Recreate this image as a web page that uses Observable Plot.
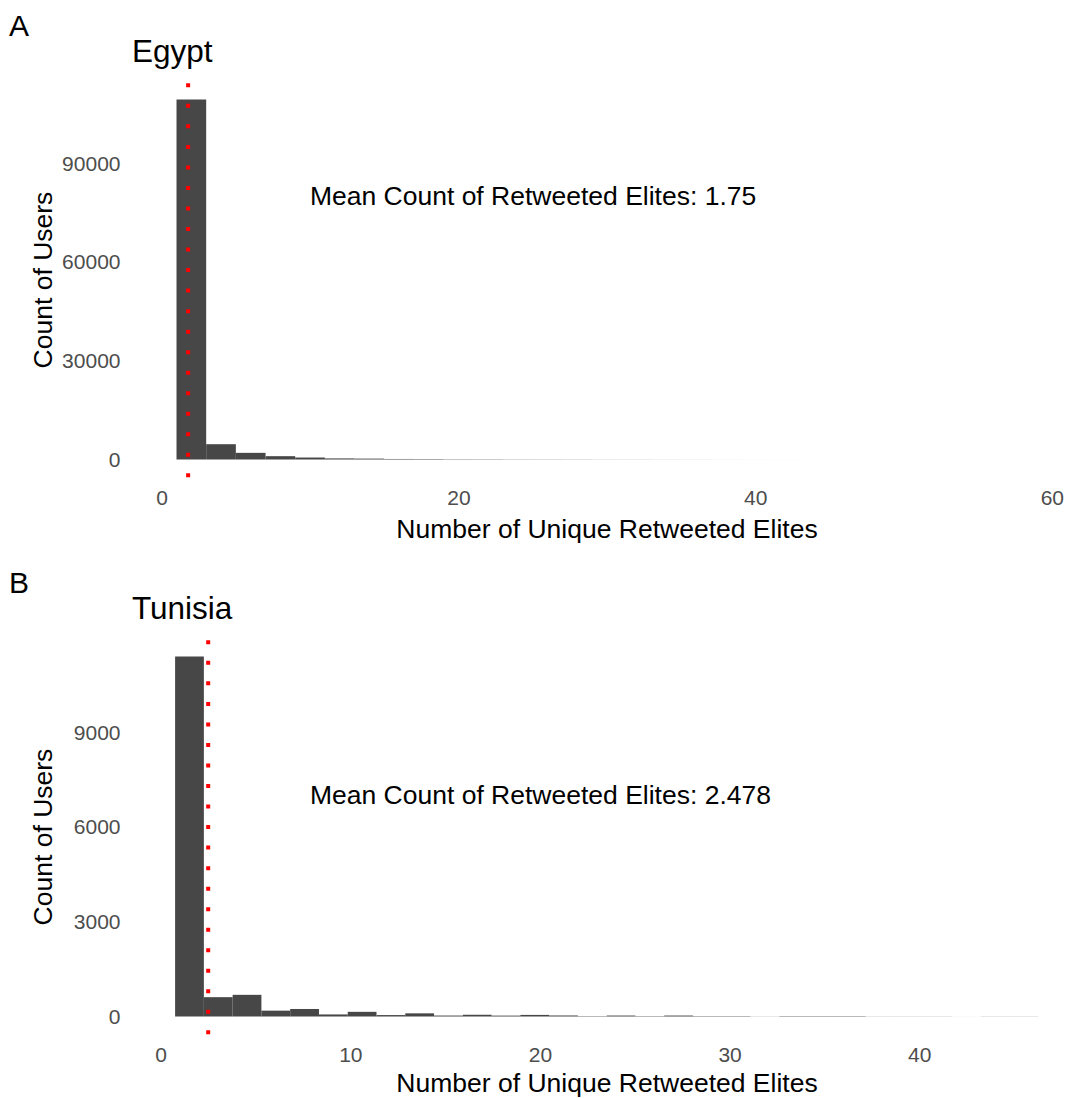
<!DOCTYPE html>
<html><head><meta charset="utf-8">
<script src="https://cdn.jsdelivr.net/npm/d3@7"></script>
<script src="https://cdn.jsdelivr.net/npm/@observablehq/plot@0.6"></script>
<style>
html,body{margin:0;padding:0;background:#fff;}
#root{position:relative;width:1067px;height:1098px;overflow:hidden;font-family:"Liberation Sans",Arial,Helvetica,sans-serif;background:#fff;}
.panel{position:absolute;left:0;}
.lbl{position:absolute;white-space:nowrap;line-height:1;color:#000;}
</style></head><body><div id="root"></div>
<script>
// ---------- data ----------
const panelTags = ["A", "B"];
const panelTitles = ["Egypt", "Tunisia"];
const xTitle = "Number of Unique Retweeted Elites";
const yTitle = "Count of Users";
const annoPrefix = "Mean Count of Retweeted Elites: ";

// Egypt: bin edges (number of unique retweeted elites) and user counts per bin
const egyptEdges = [1,3,5,7,9,11,13,15,17,19,21,23,25,27,29,31,33,35,37,39,41,43,45,47,49,51,53,55,57,59];
const egyptCounts = [109400,4650,2020,1010,600,330,270,160,140,95,85,60,55,45,32,28,20,18,10,6,3,2,1,1,0,1,0,0,1];
const egyptMean = 1.75;
const egyptXTicks = [0,20,40,60];
const egyptYTicks = [0,30000,60000,90000];
const egyptAnno = {x: 25, y: 80000};

// Tunisia
const tunisiaEdges = [0.759,2.276,3.793,5.310,6.828,8.345,9.862,11.379,12.896,14.413,15.931,17.448,18.965,20.482,21.999,23.517,25.034,26.551,28.068,29.585,31.103,32.620,34.137,35.654,37.171,38.689,40.206,41.723,43.240,44.757,46.274];
const tunisiaCounts = [11400,612,686,185,238,65,148,45,100,30,55,28,50,32,12,30,12,30,12,12,4,12,12,12,4,4,4,1,4,4];
const tunisiaMean = 2.478;
const tunisiaXTicks = [0,10,20,30,40];
const tunisiaYTicks = [0,3000,6000,9000];
const tunisiaAnno = {x: 20, y: 7000};

// ---------- layout ----------
const FONT = '"Liberation Sans",Arial,Helvetica,sans-serif';
const root = document.getElementById("root");
const PANEL_OFFSET = 557.3;
const SVG_H = 540, MT = 81.5, MB = SVG_H - 477.5, ML = 132;

function makePanel(edges, counts, mean, xDomain, yDomain, xTicks, yTicks, anno, marginRight) {
  const rows = counts.map((c, i) => ({x1: edges[i], x2: edges[i + 1], count: c}));
  const svg = Plot.plot({
    width: 1090, height: SVG_H,
    marginLeft: ML, marginRight: marginRight, marginTop: MT, marginBottom: MB,
    style: {fontFamily: FONT, background: "transparent", maxWidth: "none", overflow: "visible"},
    x: {domain: xDomain},
    y: {domain: yDomain},
    marks: [
      Plot.rectY(rows, {x1: "x1", x2: "x2", y1: 0, y2: "count", fill: "#474747"}),
      Plot.ruleX([mean], {stroke: "#ff0000", strokeWidth: 4, strokeDasharray: "4 16.53", strokeDashoffset: -1.8}),
      Plot.text([{x: anno.x, y: anno.y, t: annoPrefix + String(mean)}], {x: "x", y: "y", text: "t", fontSize: 26.5, fill: "#000"}),
      Plot.axisX({ticks: xTicks, tickSize: 0, tickPadding: 12, fontSize: 21, color: "#4d4d4d", label: null, tickFormat: d => String(d)}),
      Plot.axisY({ticks: yTicks, tickSize: 0, tickPadding: 12, fontSize: 21, color: "#4d4d4d", label: null, tickFormat: d => String(d)})
    ]
  });
  svg.style.maxWidth = "none";
  return svg;
}

function addText(txt, x, baseline, size) {
  const d = document.createElement("div");
  d.className = "lbl";
  d.textContent = txt;
  d.style.fontSize = size + "px";
  d.style.left = x + "px";
  d.style.top = (baseline - 0.8465 * size) + "px";
  root.appendChild(d);
  return d;
}
function addCentered(txt, cx, cy, size, rotate) {
  const d = document.createElement("div");
  d.className = "lbl";
  d.textContent = txt;
  d.style.fontSize = size + "px";
  d.style.left = cx + "px";
  d.style.top = cy + "px";
  d.style.transform = "translate(-50%,-50%)" + (rotate ? " rotate(-90deg)" : "");
  root.appendChild(d);
  return d;
}

const panels = [
  makePanel(egyptEdges, egyptCounts, egyptMean, [-2, 62.1], [-5470, 114870], egyptXTicks, egyptYTicks, egyptAnno, 7),
  makePanel(tunisiaEdges, tunisiaCounts, tunisiaMean, [-1.514, 48.53], [-570, 11970], tunisiaXTicks, tunisiaYTicks, tunisiaAnno, 9)
];
const xTitleY = [528.5, 1083];

panels.forEach((svg, i) => {
  const off = i * PANEL_OFFSET;
  const wrap = document.createElement("div");
  wrap.className = "panel";
  wrap.style.top = off + "px";
  wrap.appendChild(svg);
  root.appendChild(wrap);
  addText(panelTags[i], 9, 36 + off, 30);
  addText(panelTitles[i], 132, 62.3 + off, 31.5);
  addCentered(xTitle, 607, xTitleY[i], 26.5, false);
  addCentered(yTitle, 43, 279.5 + off, 26.5, true);
});
</script></body></html>
